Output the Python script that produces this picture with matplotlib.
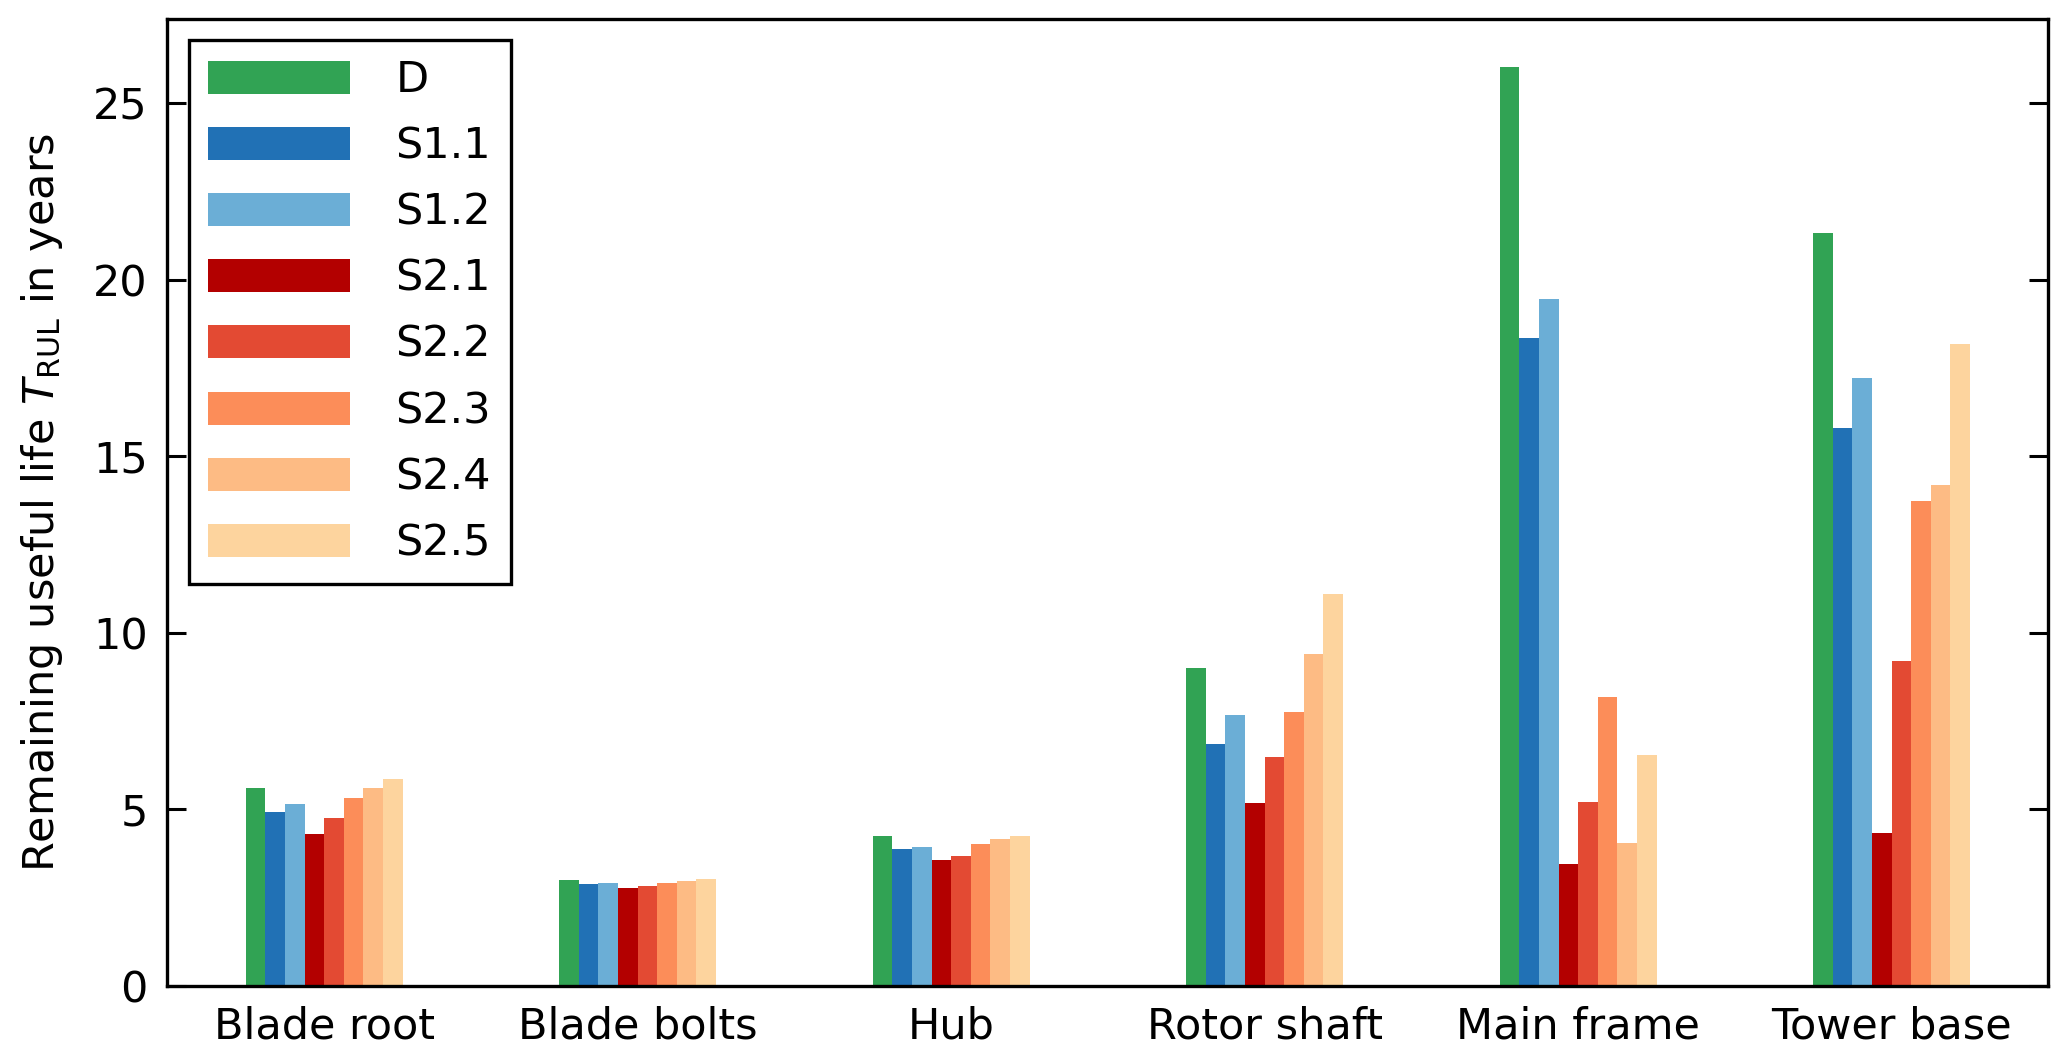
import numpy as np
import matplotlib
matplotlib.use("Agg")
import matplotlib.pyplot as plt

# Components and load scenarios
components = ["Blade root", "Blade bolts", "Hub", "Rotor shaft", "Main frame", "Tower base"]
scenarios = ["D", "S1.1", "S1.2", "S2.1", "S2.2", "S2.3", "S2.4", "S2.5"]

# Remaining useful life in years, one list per scenario (order of components)
rul_D   = [5.61, 3.00, 4.24, 9.00, 26.03, 21.33]
rul_S11 = [4.92, 2.87, 3.87, 6.84, 18.36, 15.79]
rul_S12 = [5.14, 2.92, 3.94, 7.66, 19.46, 17.23]
rul_S21 = [4.30, 2.77, 3.57, 5.17, 3.44, 4.33]
rul_S22 = [4.75, 2.83, 3.68, 6.48, 5.22, 9.19]
rul_S23 = [5.33, 2.92, 4.03, 7.76, 8.17, 13.74]
rul_S24 = [5.59, 2.96, 4.17, 9.40, 4.05, 14.19]
rul_S25 = [5.86, 3.02, 4.25, 11.10, 6.53, 18.17]

colors = ["#31a354", "#2171b5", "#6baed6", "#b30000",
          "#e34a33", "#fc8d59", "#fdbb84", "#fdd49e"]

plt.rcParams["font.family"] = "DejaVu Sans"
plt.rcParams["mathtext.fontset"] = "dejavusans"
plt.rcParams["font.size"] = 15.5

fig = plt.figure(figsize=(10.335, 5.30), dpi=200)
ax = fig.add_axes([0.081, 0.070, 0.910, 0.9125])

series = [rul_D, rul_S11, rul_S12, rul_S21, rul_S22, rul_S23, rul_S24, rul_S25]
x = np.arange(len(components))
width = 0.0625
for i, (vals, name, col) in enumerate(zip(series, scenarios, colors)):
    ax.bar(x + (i - 3.5) * width, vals, width, color=col, label=name, linewidth=0)

ax.set_xlim(-0.5, 5.5)
ax.set_ylim(0, 27.4)
ax.set_xticks(x)
ax.set_xticklabels(components)
ax.set_yticks([0, 5, 10, 15, 20, 25])
ax.tick_params(axis="x", length=0, pad=7)
ax.tick_params(axis="y", direction="in", length=7, width=1.1, right=True, pad=7)
for sp in ax.spines.values():
    sp.set_linewidth(1.2)

ax.set_ylabel(r"Remaining useful life $T_\mathrm{RUL}$ in years", labelpad=10)

leg = ax.legend(loc="upper left", handlelength=3.3, handleheight=0.8,
                labelspacing=0.56, handletextpad=1.05, borderpad=0.45,
                fancybox=False, framealpha=1, borderaxespad=0.5)
leg.get_frame().set_edgecolor("black")
leg.get_frame().set_linewidth(1.2)

fig.savefig("out.png", dpi=200)
